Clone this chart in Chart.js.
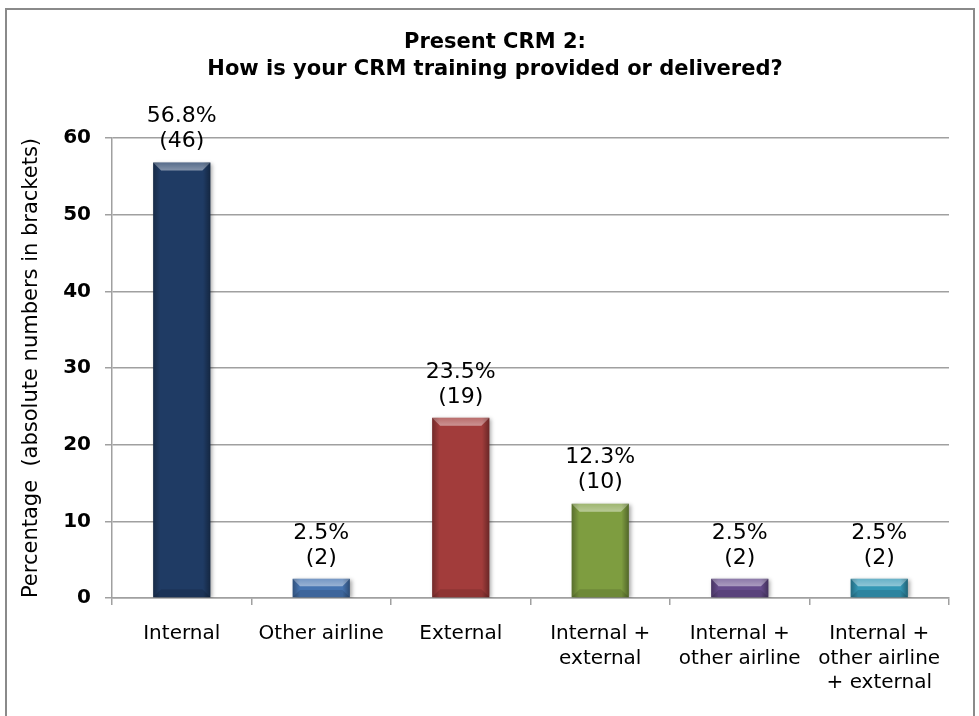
<!DOCTYPE html>
<html>
<head>
<meta charset="utf-8">
<script src="https://cdn.jsdelivr.net/npm/chart.js@4.4.1/dist/chart.umd.min.js"></script>
<style>
  html, body { margin: 0; padding: 0; background: #fff; }
  #frame { position: absolute; left: 5px; top: 8px; width: 970px; height: 740px; border: 2px solid #8a8a8a; box-sizing: border-box; }
  #wrap { position: absolute; left: 0; top: 0; width: 979px; height: 716px; }
</style>
</head>
<body>
<div id="frame"></div>
<div id="wrap"><canvas id="chart"></canvas></div>
<script>
const titleLines = ['Present CRM 2:', 'How is your CRM training provided or delivered?'];
const categories = [
  'Internal',
  'Other airline',
  'External',
  ['Internal +', 'external'],
  ['Internal +', 'other airline'],
  ['Internal +', 'other airline', '+ external']
];
const percentages = [56.8, 2.5, 23.5, 12.3, 2.5, 2.5];
const counts = [46, 2, 19, 10, 2, 2];
const yTicks = [0, 10, 20, 30, 40, 50, 60];
const barColors = ['#1f3b64', '#4674b1', '#a23c3b', '#7e9d40', '#664c8c', '#3497b5'];

const FONT = "'DejaVu Sans', Verdana, sans-serif";
const GRID = '#a0a0a0';

// soft shadow + bevel look on each bar
const bevelPlugin = {
  id: 'bevel',
  beforeDatasetDraw(chart) {
    const ctx = chart.ctx;
    ctx.save();
    ctx.shadowColor = 'rgba(0,0,0,0.35)';
    ctx.shadowBlur = 4;
    ctx.shadowOffsetX = 2;
    ctx.shadowOffsetY = 1;
  },
  afterDatasetDraw(chart) {
    const ctx = chart.ctx;
    ctx.restore();
    chart.getDatasetMeta(0).data.forEach(bar => {
      const l = bar.x - bar.width / 2, r = bar.x + bar.width / 2;
      const t = bar.y, b = bar.base;
      const e = Math.min(8, (b - t) / 2.5);
      ctx.save();
      // side shading
      const g = ctx.createLinearGradient(l, 0, r, 0);
      g.addColorStop(0, 'rgba(0,0,0,0.3)');
      g.addColorStop(0.13, 'rgba(0,0,0,0)');
      g.addColorStop(0.87, 'rgba(0,0,0,0)');
      g.addColorStop(1, 'rgba(0,0,0,0.35)');
      ctx.fillStyle = g;
      ctx.fillRect(l, t, r - l, b - t);
      // top facet
      ctx.beginPath();
      ctx.moveTo(l, t); ctx.lineTo(r, t); ctx.lineTo(r - e, t + e); ctx.lineTo(l + e, t + e); ctx.closePath();
      const tg = ctx.createLinearGradient(0, t, 0, t + e);
      tg.addColorStop(0, 'rgba(255,255,255,0.25)');
      tg.addColorStop(1, 'rgba(255,255,255,0.45)');
      ctx.fillStyle = tg;
      ctx.fill();
      // bottom facet
      ctx.beginPath();
      ctx.moveTo(l, b); ctx.lineTo(r, b); ctx.lineTo(r - e, b - e); ctx.lineTo(l + e, b - e); ctx.closePath();
      ctx.fillStyle = 'rgba(0,0,0,0.12)';
      ctx.fill();
      ctx.restore();
    });
  }
};

// percentage and count above each bar, plus the centred title
const textPlugin = {
  id: 'texts',
  afterDatasetsDraw(chart) {
    const ctx = chart.ctx;
    ctx.save();
    ctx.font = '22px ' + FONT;
    ctx.fillStyle = '#000';
    ctx.textAlign = 'center';
    ctx.textBaseline = 'middle';
    chart.getDatasetMeta(0).data.forEach((bar, i) => {
      ctx.fillText(percentages[i].toFixed(1) + '%', bar.x, bar.y - 46);
      ctx.fillText('(' + counts[i] + ')', bar.x, bar.y - 21);
    });
    ctx.font = 'bold 21px ' + FONT;
    titleLines.forEach((line, i) => ctx.fillText(line, 495, 43 + i * 27));
    ctx.restore();
  }
};

const data = {
  labels: categories,
  datasets: [{
    data: percentages,
    backgroundColor: barColors,
    borderWidth: 0,
    barPercentage: 0.41,
    categoryPercentage: 1
  }]
};

const config = {
  type: 'bar',
  data: data,
  plugins: [bevelPlugin, textPlugin],
  options: {
    responsive: true,
    maintainAspectRatio: false,
    animation: false,
    layout: { padding: { left: 0, right: 30, top: 138, bottom: 0 } },
    plugins: {
      legend: { display: false },
      tooltip: { enabled: false },
      title: { display: false }
    },
    scales: {
      x: {
        afterFit: s => { s.height = 118; },
        grid: { display: true, offset: true, drawOnChartArea: false, color: GRID, lineWidth: 1.5, tickLength: 7 },
        border: { color: GRID, width: 1.5 },
        ticks: {
          color: '#000',
          autoSkip: false,
          maxRotation: 0,
          padding: 17,
          font: { family: FONT, size: 20, lineHeight: 1.22 }
        }
      },
      y: {
        min: 0,
        max: 60,
        afterFit: s => { s.width = 112; },
        afterBuildTicks: s => { s.ticks = yTicks.map(v => ({ value: v })); },
        grid: { color: GRID, lineWidth: 1.5, tickLength: 7 },
        border: { color: GRID, width: 1.5 },
        ticks: {
          color: '#000',
          padding: 14,
          font: { family: FONT, size: 20, weight: 'bold' }
        },
        title: {
          display: true,
          text: 'Percentage  (absolute numbers in brackets)',
          color: '#000',
          padding: { top: 19 },
          font: { family: FONT, size: 21, lineHeight: 1.2 }
        }
      }
    }
  }
};

const myChart = new Chart(document.getElementById('chart'), config);
</script>
</body>
</html>
